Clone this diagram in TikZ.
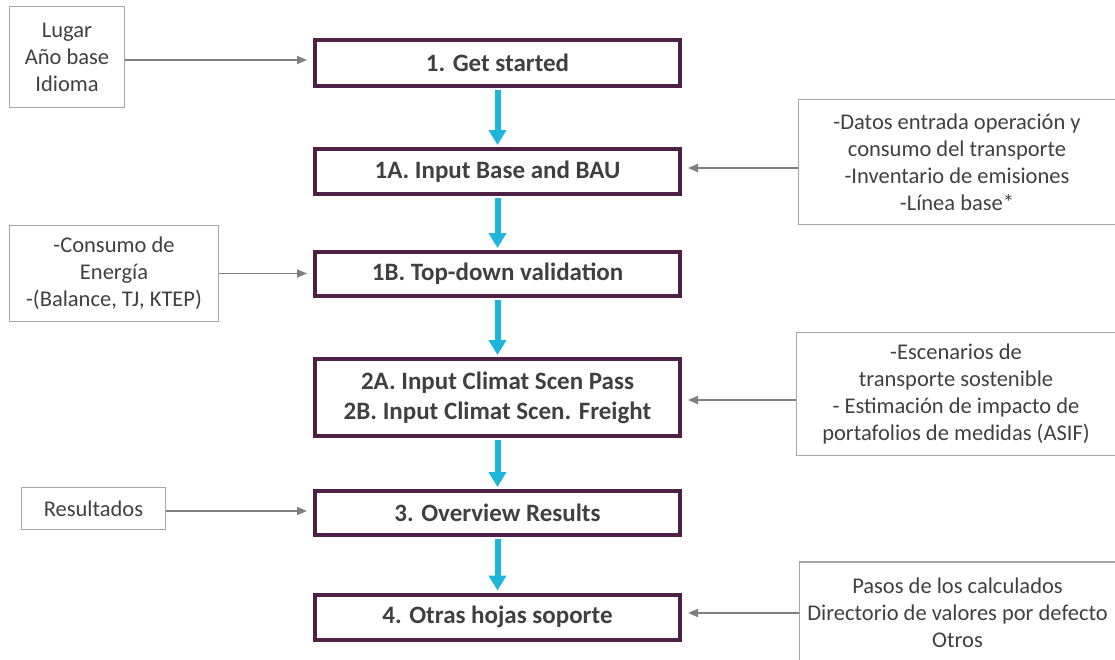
\documentclass[tikz,border=0pt]{standalone}
\usepackage{fontspec}
\setmainfont{Carlito}
\usetikzlibrary{arrows.meta}
\definecolor{stagepurple}{RGB}{79,32,70}
\definecolor{flowcyan}{RGB}{28,181,220}
\definecolor{notegray}{RGB}{166,166,166}
\definecolor{feedgray}{RGB}{127,127,127}
\definecolor{txtgray}{RGB}{64,64,64}

\begin{document}
\begin{tikzpicture}[x=1pt,y=-1pt,
  stage/.style={rectangle,draw=stagepurple,line width=4pt,minimum width=365pt,inner sep=0pt,
    text=txtgray,font=\fontsize{25}{30}\selectfont\bfseries,align=center},
  note/.style={rectangle,draw=notegray,line width=1.2pt,inner sep=0pt,
    text=txtgray,font=\fontsize{22.5}{27}\selectfont,align=center},
  flow/.style={draw=flowcyan,line width=6pt,-{Triangle[length=15pt,width=17pt]},
    shorten <=2pt,shorten >=2pt},
  feed/.style={draw=feedgray,line width=1.8pt,-{Triangle[length=10pt,width=8pt]},shorten >=6pt}]
\clip (0,0) rectangle (1115,659);

% main sheets
\node[stage,minimum height=46pt] (b1) at (497.5,63) {1. Get started};
\node[stage,minimum height=45pt] (b1a) at (497.5,171.5) {1A. Input Base and BAU};
\node[stage,minimum height=44pt] (b1b) at (497.5,274) {1B. Top-down validation};
\node[stage,minimum height=77pt] (b2) at (497.5,397.5) {2A. Input Climat Scen Pass\\2B. Input Climat Scen. Freight};
\node[stage,minimum height=44pt] (b3) at (497.5,513) {3. Overview Results};
\node[stage,minimum height=45pt] (b4) at (497.5,617) {4. Otras hojas soporte};

% inputs
\node[note,minimum width=115pt,minimum height=101pt] (lugar) at (67,57) {Lugar\\Año base\\Idioma};
\node[note,minimum width=317pt,minimum height=125pt] (datos) at (957,162)
  {-Datos entrada operación y\\consumo del transporte\\-Inventario de emisiones\\-Línea base*};
\node[note,minimum width=209pt,minimum height=96pt] (energia) at (114,273.5)
  {-Consumo de\\Energía\\-(Balance, TJ, KTEP)};
\node[note,minimum width=319pt,minimum height=123pt] (escen) at (956,394)
  {-Escenarios de\\transporte sostenible\\- Estimación de impacto de\\portafolios de medidas (ASIF)};
\node[note,minimum width=144pt,minimum height=42pt] (result) at (93.5,508.5) {Resultados};
\node[note,minimum width=316pt,minimum height=102pt] (pasos) at (957.5,613)
  {Pasos de los calculados\\Directorio de valores por defecto\\Otros};

% flow between sheets
\draw[flow] (b1) -- (b1a);
\draw[flow] (b1a) -- (b1b);
\draw[flow] (b1b) -- (b2);
\draw[flow] (b2) -- (b3);
\draw[flow] (b3) -- (b4);

% feeds
\draw[feed] ([yshift=-3pt]lugar.east) -- ([yshift=-3pt]lugar.east -| b1.west);
\draw[feed] ([yshift=-6pt]datos.west) -- ([yshift=-6pt]datos.west -| b1a.east);
\draw[feed] (energia.east) -- (energia.east -| b1b.west);
\draw[feed] ([yshift=-6pt]escen.west) -- ([yshift=-6pt]escen.west -| b2.east);
\draw[feed] ([yshift=-2.5pt]result.east) -- ([yshift=-2.5pt]result.east -| b3.west);
\draw[feed] (pasos.west) -- (pasos.west -| b4.east);
\end{tikzpicture}
\end{document}
